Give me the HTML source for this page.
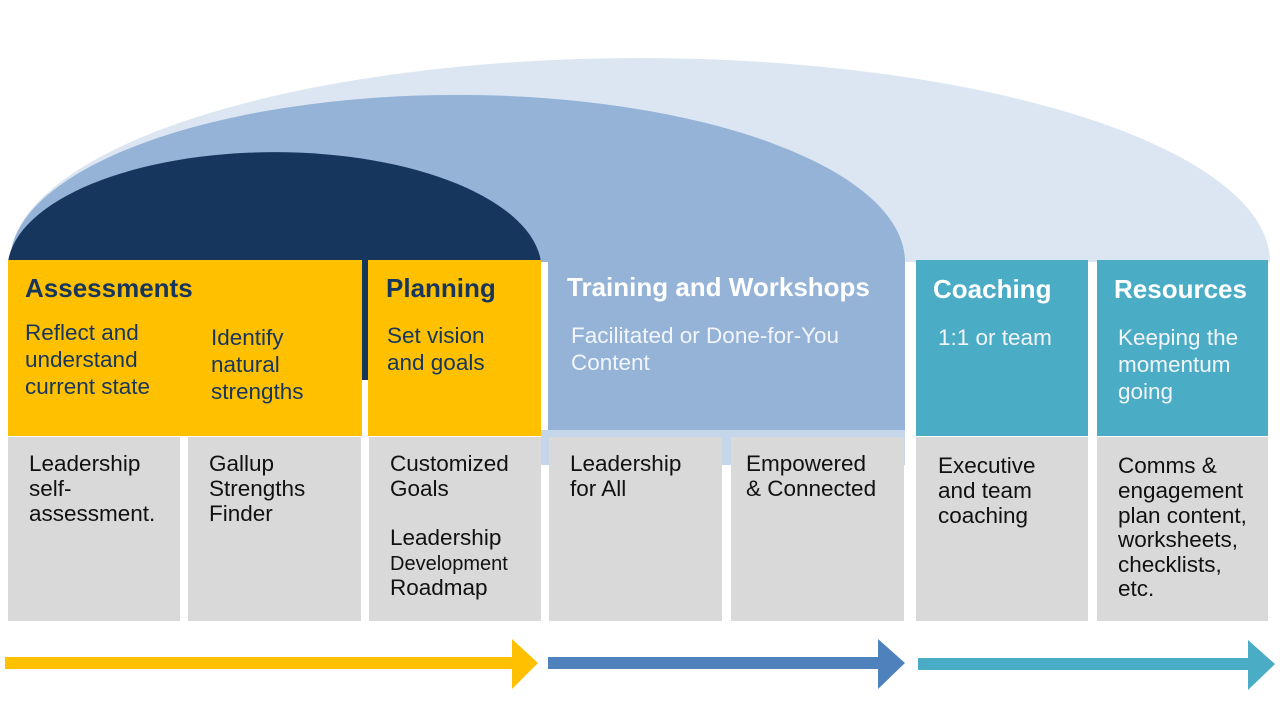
<!DOCTYPE html>
<html><head><meta charset="utf-8"><style>
html,body{margin:0;padding:0;background:#fff;width:1280px;height:720px;overflow:hidden}
svg text{font-family:"Liberation Sans",Arial,sans-serif}
</style></head><body>
<svg width="1280" height="720" viewBox="0 0 1280 720" xmlns="http://www.w3.org/2000/svg">
<path d="M10,262 A630,204 0 0 1 1270,262 Z" fill="#dce6f2"/>
<path d="M10,262 A447,167 0 0 1 905,262 L905,436 L548,436 L548,262 Z" fill="#95b3d7"/>
<rect x="541" y="430" width="364" height="35" fill="#c6d6ea"/>
<path d="M8,262 A267,117 0 0 1 541,262 L541,380 L8,380 Z" fill="#17365d"/>
<rect x="8" y="260" width="354" height="176" fill="#ffc000"/>
<rect x="368" y="260" width="173" height="176" fill="#ffc000"/>
<rect x="916" y="260" width="172" height="176" fill="#4bacc6"/>
<rect x="1097" y="260" width="171" height="176" fill="#4bacc6"/>
<g fill="#d9d9d9">
<rect x="8" y="437" width="172" height="184"/>
<rect x="188" y="437" width="173" height="184"/>
<rect x="369" y="437" width="172" height="184"/>
<rect x="549" y="437" width="173" height="184"/>
<rect x="731" y="437" width="173" height="184"/>
<rect x="916" y="437" width="172" height="184"/>
<rect x="1097" y="437" width="171" height="184"/>
</g>
<rect x="5" y="657" width="510" height="12" fill="#ffc000"/>
<polygon points="512,639 538,663 512,689" fill="#ffc000"/>
<rect x="548" y="657" width="332" height="12" fill="#4f81bd"/>
<polygon points="878,639 905,663 878,689" fill="#4f81bd"/>
<rect x="918" y="658" width="332" height="12" fill="#4bacc6"/>
<polygon points="1248,640 1275,664 1248,690" fill="#4bacc6"/>
<g font-weight="bold" font-size="26">
<text x="25" y="297" fill="#17365d">Assessments</text>
<text x="386" y="297" fill="#17365d">Planning</text>
<text x="567" y="296" fill="#fff">Training and Workshops</text>
<text x="933" y="298" fill="#fff">Coaching</text>
<text x="1114" y="298" fill="#fff">Resources</text>
</g>
<g font-size="22.5" fill="#17365d">
<text x="25" y="340">Reflect and</text><text x="25" y="367">understand</text><text x="25" y="394">current state</text>
<text x="211" y="345">Identify</text><text x="211" y="372">natural</text><text x="211" y="399">strengths</text>
<text x="387" y="343">Set vision</text><text x="387" y="370">and goals</text>
</g>
<g font-size="22.5" fill="#f2f5fa">
<text x="571" y="343">Facilitated or Done-for-You</text><text x="571" y="370">Content</text>
<text x="938" y="345">1:1 or team</text>
<text x="1118" y="345">Keeping the</text><text x="1118" y="372">momentum</text><text x="1118" y="399">going</text>
</g>
<g font-size="22.5" fill="#111">
<text x="29" y="471">Leadership</text><text x="29" y="496">self-</text><text x="29" y="521">assessment.</text>
<text x="209" y="471">Gallup</text><text x="209" y="496">Strengths</text><text x="209" y="521">Finder</text>
<text x="390" y="471">Customized</text><text x="390" y="496">Goals</text>
<text x="390" y="545">Leadership</text><text x="390" y="570" font-size="20">Development</text><text x="390" y="595">Roadmap</text>
<text x="570" y="471">Leadership</text><text x="570" y="496">for All</text>
<text x="746" y="471">Empowered</text><text x="746" y="496">&amp; Connected</text>
<text x="938" y="473">Executive</text><text x="938" y="498">and team</text><text x="938" y="523">coaching</text>
<text x="1118" y="473">Comms &amp;</text><text x="1118" y="498">engagement</text><text x="1118" y="523">plan content,</text><text x="1118" y="547">worksheets,</text><text x="1118" y="572">checklists,</text><text x="1118" y="596">etc.</text>
</g>
</svg>
</body></html>
